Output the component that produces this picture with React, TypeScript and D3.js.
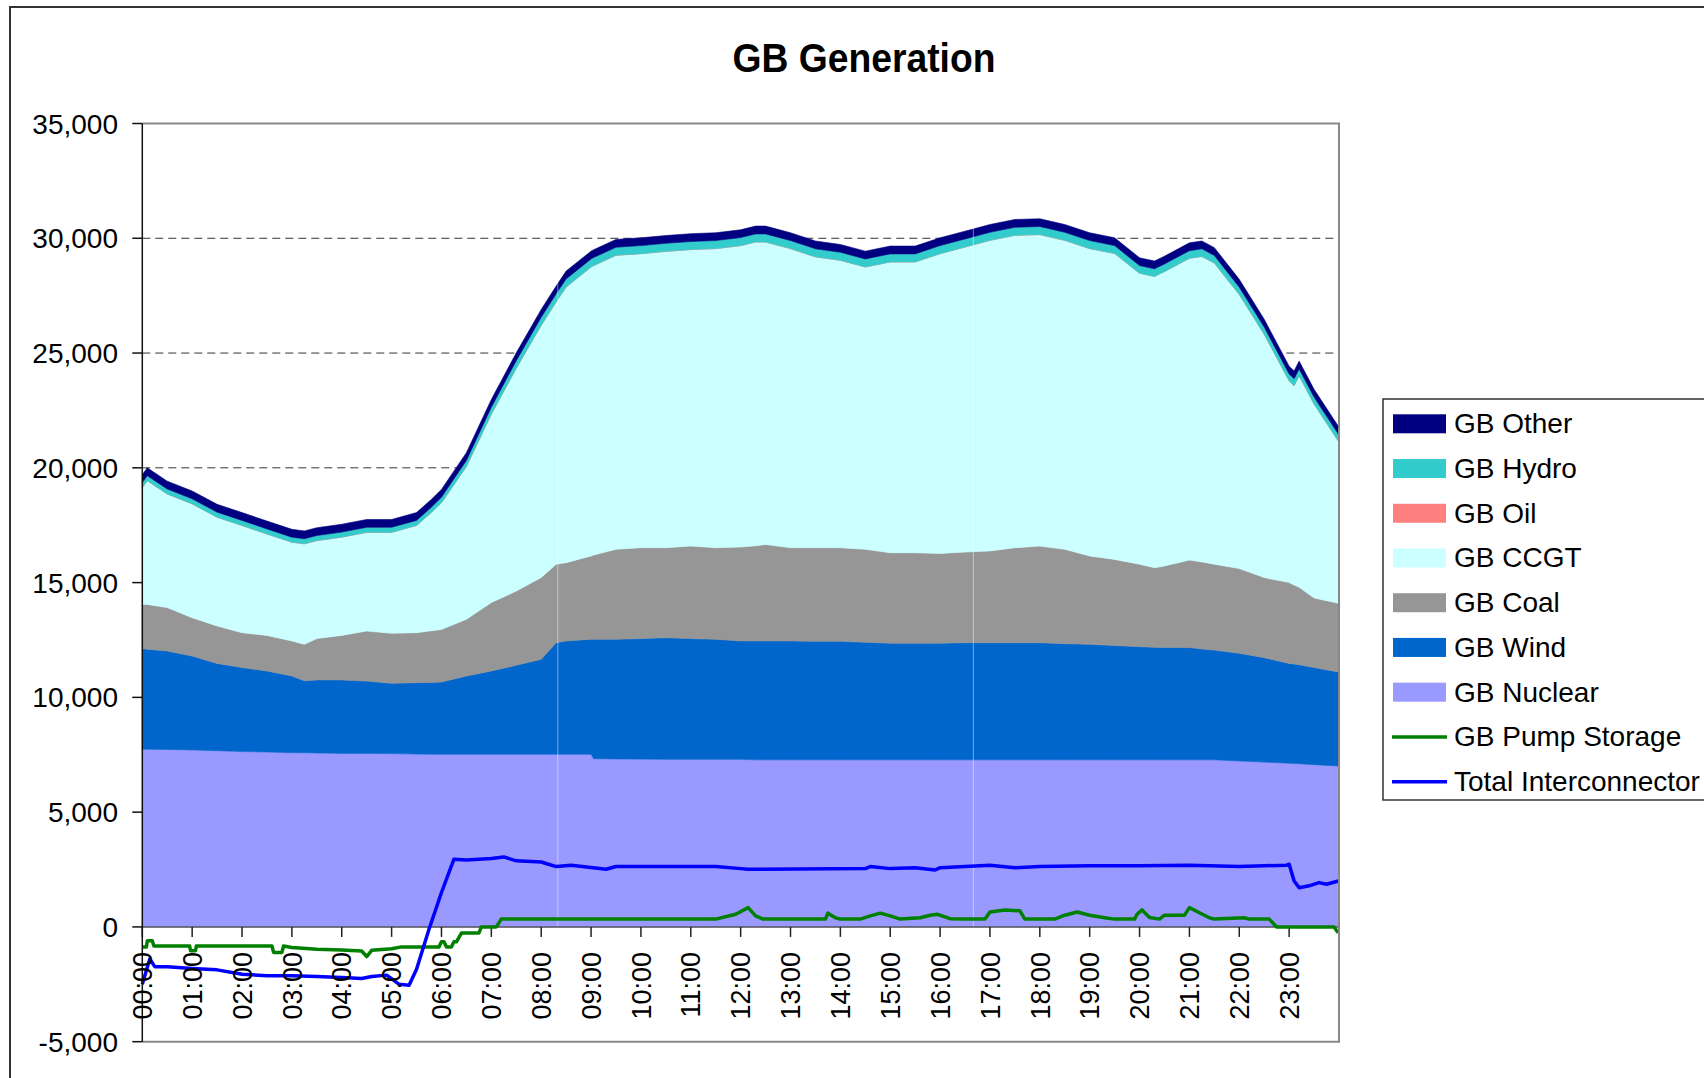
import React, { useEffect, useRef } from 'react';
import * as d3 from 'd3';

// stacked generation, MW
const times = [
  '00:00', '00:06', '00:30', '01:00', '01:30', '02:00', '02:30', '03:00', '03:15', '03:30',
  '04:00', '04:30', '05:00', '05:30', '05:48', '06:00', '06:30', '07:00', '07:30', '08:00',
  '08:18', '08:30', '09:00', '09:03', '09:30', '10:00', '10:30', '11:00', '11:30', '12:00',
  '12:18', '12:30', '13:00', '13:30', '14:00', '14:30', '15:00', '15:30', '16:00', '16:30',
  '17:00', '17:30', '18:00', '18:30', '19:00', '19:30', '20:00', '20:18', '20:30', '21:00',
  '21:15', '21:30', '22:00', '22:30', '23:00', '23:06', '23:12', '23:30', '23:59',
];
const nuclear = [
  7740, 7740, 7730, 7710, 7680, 7640, 7620, 7590, 7590, 7580,
  7560, 7560, 7550, 7530, 7520, 7520, 7520, 7520, 7520, 7520,
  7520, 7520, 7520, 7330, 7320, 7310, 7300, 7300, 7300, 7300,
  7280, 7280, 7280, 7280, 7280, 7280, 7280, 7280, 7280, 7280,
  7280, 7280, 7280, 7280, 7280, 7280, 7280, 7280, 7280, 7280,
  7280, 7280, 7230, 7180, 7130, 7120, 7110, 7070, 7010,
];
const wind = [
  4380, 4360, 4290, 4090, 3800, 3660, 3530, 3340, 3130, 3180,
  3200, 3150, 3060, 3110, 3130, 3150, 3410, 3630, 3880, 4140,
  4860, 4940, 5010, 5200, 5210, 5250, 5300, 5260, 5230, 5160,
  5180, 5180, 5180, 5160, 5160, 5120, 5080, 5080, 5080, 5100,
  5100, 5100, 5100, 5060, 5030, 4980, 4930, 4900, 4890, 4890,
  4830, 4780, 4690, 4550, 4350, 4330, 4310, 4230, 4100,
];
const coal = [
  1930, 1950, 1890, 1670, 1630, 1520, 1550, 1530, 1590, 1800,
  1940, 2180, 2180, 2180, 2250, 2290, 2470, 2980, 3230, 3560,
  3420, 3410, 3630, 3670, 3920, 3960, 3920, 4030, 3990, 4090,
  4140, 4200, 4060, 4080, 4080, 4050, 3940, 3940, 3910, 3950,
  4000, 4140, 4210, 4110, 3850, 3750, 3590, 3470, 3550, 3810,
  3790, 3740, 3690, 3490, 3520, 3450, 3380, 3030, 2990,
];
const ccgt = [
  5090, 5390, 4950, 4960, 4740, 4670, 4420, 4300, 4380, 4270,
  4280, 4300, 4400, 4670, 5160, 5520, 6660, 8210, 9710, 10990,
  11430, 12010, 12590, 12610, 12810, 12810, 12910, 12920, 13030, 13130,
  13240, 13180, 13030, 12670, 12520, 12300, 12670, 12670, 13060, 13290,
  13530, 13610, 13570, 13460, 13390, 13330, 12680, 12690, 12830, 13150,
  13310, 13120, 11940, 10600, 8790, 8680, 9210, 8450, 7080,
];
const oil = times.map(() => 0);
const hydro = [
  220, 220, 220, 220, 220, 220, 220, 220, 220, 220,
  220, 220, 220, 220, 230, 240, 260, 300, 330, 350,
  350, 350, 350, 350, 350, 350, 350, 350, 350, 350,
  350, 350, 350, 350, 350, 350, 350, 350, 350, 350,
  350, 350, 350, 350, 350, 340, 330, 330, 330, 330,
  330, 330, 320, 310, 300, 300, 300, 300, 300,
];
const other = times.map(() => 340);

// lines, MW
const pumpTimes = [
  '00:00', '00:05', '00:06', '00:12', '00:14', '00:57', '00:58', '01:04', '01:05', '02:36',
  '02:38', '02:48', '02:50', '03:00', '03:30', '04:00', '04:24', '04:30', '04:36', '05:00',
  '05:12', '05:57', '06:00', '06:03', '06:06', '06:12', '06:15', '06:18', '06:24', '06:45',
  '06:48', '07:06', '07:12', '11:30', '11:54', '12:09', '12:18', '12:27', '13:42', '13:45',
  '13:54', '14:00', '14:24', '14:36', '14:48', '15:00', '15:12', '15:36', '15:48', '15:57',
  '16:12', '16:30', '16:54', '17:00', '17:18', '17:36', '17:42', '18:18', '18:30', '18:45',
  '19:00', '19:18', '19:30', '19:54', '19:57', '20:03', '20:12', '20:24', '20:30', '20:54',
  '21:00', '21:12', '21:24', '21:30', '22:06', '22:12', '22:36', '22:45', '23:54', '23:59',
];
const pumpStorage = [
  -870, -870, -600, -600, -830, -830, -1040, -1040, -830, -830,
  -1110, -1110, -830, -900, -970, -1000, -1050, -1290, -1020, -950,
  -870, -870, -650, -650, -870, -870, -650, -650, -270, -270,
  0, 0, 340, 340, 550, 840, 480, 340, 340, 600,
  400, 340, 340, 480, 600, 480, 340, 400, 510, 550,
  360, 340, 340, 650, 740, 700, 340, 340, 510, 650,
  510, 400, 340, 340, 550, 740, 410, 340, 510, 510,
  840, 620, 400, 340, 400, 340, 340, 0, 0, -250,
];
const icTimes = [
  '00:00', '00:09', '00:15', '00:30', '01:00', '01:30', '02:00', '02:30', '03:00', '03:30',
  '04:00', '04:24', '04:36', '04:54', '05:00', '05:09', '05:21', '05:30', '05:45', '06:00',
  '06:15', '06:30', '07:00', '07:15', '07:30', '08:00', '08:18', '08:36', '09:00', '09:18',
  '09:30', '11:30', '12:00', '12:09', '14:30', '14:36', '15:00', '15:30', '15:54', '16:00',
  '16:30', '17:00', '17:30', '18:00', '19:00', '20:00', '21:00', '22:00', '22:57', '23:00',
  '23:06', '23:12', '23:24', '23:36', '23:45', '23:59',
];
const interconnector = [
  -2500, -1400, -1730, -1730, -1810, -1870, -2060, -2130, -2130, -2160,
  -2200, -2250, -2160, -2100, -2250, -2500, -2540, -1840, -100, 1500,
  2950, 2920, 2980, 3050, 2880, 2830, 2630, 2690, 2590, 2510,
  2630, 2630, 2540, 2510, 2540, 2630, 2540, 2580, 2480, 2580,
  2630, 2690, 2580, 2630, 2660, 2660, 2690, 2630, 2690, 2730,
  2000, 1710, 1790, 1930, 1860, 2000,
];

const gapTimes = ['08:20', '16:40'];
const yTicks = [-5000, 0, 5000, 10000, 15000, 20000, 25000, 30000, 35000];
const hourLabels = d3.range(24).map(h => `${String(h).padStart(2, '0')}:00`);

const stackKeys = ['nuclear', 'wind', 'coal', 'ccgt', 'oil', 'hydro', 'other'];
const colors: Record<string, string> = {
  other: '#000080',
  hydro: '#33CCCC',
  oil: '#FF8080',
  ccgt: '#CCFFFF',
  coal: '#969696',
  wind: '#0066CC',
  nuclear: '#9999FF',
  pump: '#008000',
  ic: '#0000FF',
};
const legendItems = [
  { key: 'other', label: 'GB Other', kind: 'area' },
  { key: 'hydro', label: 'GB Hydro', kind: 'area' },
  { key: 'oil', label: 'GB Oil', kind: 'area' },
  { key: 'ccgt', label: 'GB CCGT', kind: 'area' },
  { key: 'coal', label: 'GB Coal', kind: 'area' },
  { key: 'wind', label: 'GB Wind', kind: 'area' },
  { key: 'nuclear', label: 'GB Nuclear', kind: 'area' },
  { key: 'pump', label: 'GB Pump Storage', kind: 'line' },
  { key: 'ic', label: 'Total Interconnector', kind: 'line' },
];

const hm = (s: string) => {
  const [h, m] = s.split(':').map(Number);
  return h + m / 60;
};
const fmt = (v: number) => d3.format(',')(v).replace('\u2212', '-');

const FONT = '"Liberation Sans", Arial, sans-serif';

export default function App() {
  const svgRef = useRef<SVGSVGElement>(null);

  useEffect(() => {
    if (!svgRef.current) return;
    const svg = d3.select(svgRef.current);
    svg.selectAll('*').remove();

    const plot = { left: 142.3, right: 1339, top: 123.5, bottom: 1041.7 };
    const x = d3.scaleLinear().domain([0, 24]).range([plot.left, plot.right]);
    const y = d3.scaleLinear().domain([-5000, 35000]).range([plot.bottom, plot.top]);

    const table = times.map((t, i) => ({
      t: hm(t),
      nuclear: nuclear[i], wind: wind[i], coal: coal[i], ccgt: ccgt[i],
      oil: oil[i], hydro: hydro[i], other: other[i],
    }));
    const series = d3.stack<any>().keys(stackKeys)(table);

    // outer chart frame (runs off the page to the right and bottom)
    svg.append('rect')
      .attr('x', 10).attr('y', 7).attr('width', 1800).attr('height', 1200)
      .attr('fill', '#fff').attr('stroke', '#333').attr('stroke-width', 2);

    // gridlines
    svg.append('g').selectAll('line')
      .data(yTicks.filter(v => v !== 0 && v !== 35000 && v !== -5000))
      .enter().append('line')
      .attr('x1', plot.left).attr('x2', plot.right)
      .attr('y1', d => y(d)).attr('y2', d => y(d))
      .attr('stroke', '#333').attr('stroke-width', 1)
      .attr('stroke-dasharray', '8,5');

    // stacked areas
    const area = d3.area<any>()
      .x(d => x(d.data.t))
      .y0(d => y(d[0]))
      .y1(d => y(d[1]));
    svg.append('g').selectAll('path')
      .data(series)
      .enter().append('path')
      .attr('d', area as any)
      .attr('fill', d => colors[d.key])
      .attr('stroke', d => colors[d.key])
      .attr('stroke-width', 0.6);

    // sampling gaps
    svg.append('g').selectAll('line')
      .data(gapTimes)
      .enter().append('line')
      .attr('x1', d => x(hm(d))).attr('x2', d => x(hm(d)))
      .attr('y1', plot.top).attr('y2', plot.bottom)
      .attr('stroke', 'rgba(255,255,255,0.45)').attr('stroke-width', 1);

    // zero axis
    svg.append('line')
      .attr('x1', plot.left).attr('x2', plot.right)
      .attr('y1', y(0)).attr('y2', y(0))
      .attr('stroke', '#555').attr('stroke-width', 1.5);

    // x ticks
    svg.append('g').selectAll('line')
      .data(hourLabels)
      .enter().append('line')
      .attr('x1', d => x(hm(d))).attr('x2', d => x(hm(d)))
      .attr('y1', y(0)).attr('y2', y(0) + 10)
      .attr('stroke', '#222').attr('stroke-width', 1.5);

    // lines
    const line = d3.line<[number, number]>().x(d => x(d[0])).y(d => y(d[1]));
    svg.append('path')
      .attr('d', line(pumpTimes.map((t, i) => [hm(t), pumpStorage[i]]))!)
      .attr('fill', 'none').attr('stroke', colors.pump).attr('stroke-width', 3.5)
      .attr('stroke-linejoin', 'round');
    svg.append('path')
      .attr('d', line(icTimes.map((t, i) => [hm(t), interconnector[i]]))!)
      .attr('fill', 'none').attr('stroke', colors.ic).attr('stroke-width', 3.5)
      .attr('stroke-linejoin', 'round');

    // plot border (top, right, bottom)
    svg.append('path')
      .attr('d', `M${plot.left},${plot.top}H${plot.right}V${plot.bottom}H${plot.left}`)
      .attr('fill', 'none').attr('stroke', '#888').attr('stroke-width', 2);

    // y axis
    svg.append('line')
      .attr('x1', plot.left).attr('x2', plot.left)
      .attr('y1', plot.top).attr('y2', plot.bottom)
      .attr('stroke', '#111').attr('stroke-width', 1.5);
    const yt = svg.append('g');
    yt.selectAll('line')
      .data(yTicks).enter().append('line')
      .attr('x1', plot.left - 10).attr('x2', plot.left)
      .attr('y1', d => y(d)).attr('y2', d => y(d))
      .attr('stroke', '#111').attr('stroke-width', 1.5);
    yt.selectAll('text')
      .data(yTicks).enter().append('text')
      .attr('x', 118).attr('y', d => y(d) + 10)
      .attr('text-anchor', 'end')
      .style('font-family', FONT).style('font-size', '28px').style('fill', '#000')
      .text(d => fmt(d));

    // x labels, rotated
    svg.append('g').selectAll('text')
      .data(hourLabels).enter().append('text')
      .attr('transform', d => `translate(${x(hm(d)) + 9.7},952) rotate(-90)`)
      .attr('text-anchor', 'end')
      .style('font-family', FONT).style('font-size', '27px').style('fill', '#000')
      .text(d => d);

    // title
    svg.append('text')
      .attr('x', 864).attr('y', 72)
      .attr('text-anchor', 'middle')
      .attr('textLength', 263).attr('lengthAdjust', 'spacingAndGlyphs')
      .style('font-family', FONT).style('font-size', '41px').style('font-weight', 'bold')
      .text('GB Generation');

    // legend
    const lg = svg.append('g');
    lg.append('rect')
      .attr('x', 1383).attr('y', 399).attr('width', 400).attr('height', 401)
      .attr('fill', '#fff').attr('stroke', '#333').attr('stroke-width', 1.5);
    const item = lg.selectAll('g.item')
      .data(legendItems).enter().append('g')
      .attr('class', 'item')
      .attr('transform', (_, i) => `translate(0,${423.8 + i * 44.73})`);
    item.filter(d => d.kind === 'area').append('rect')
      .attr('x', 1393).attr('y', -9.5).attr('width', 53).attr('height', 19)
      .attr('fill', d => colors[d.key]);
    item.filter(d => d.kind === 'line').append('line')
      .attr('x1', 1392).attr('x2', 1447).attr('y1', 0).attr('y2', 0)
      .attr('stroke', d => colors[d.key]).attr('stroke-width', 3.5);
    item.append('text')
      .attr('x', 1454).attr('y', 9.5)
      .style('font-family', FONT).style('font-size', '28px').style('fill', '#000')
      .text(d => d.label);
  }, []);

  return (
    <svg
      ref={svgRef}
      width={1704}
      height={1078}
      style={{ position: 'absolute', left: 0, top: 0, display: 'block', background: '#fff' }}
    />
  );
}
